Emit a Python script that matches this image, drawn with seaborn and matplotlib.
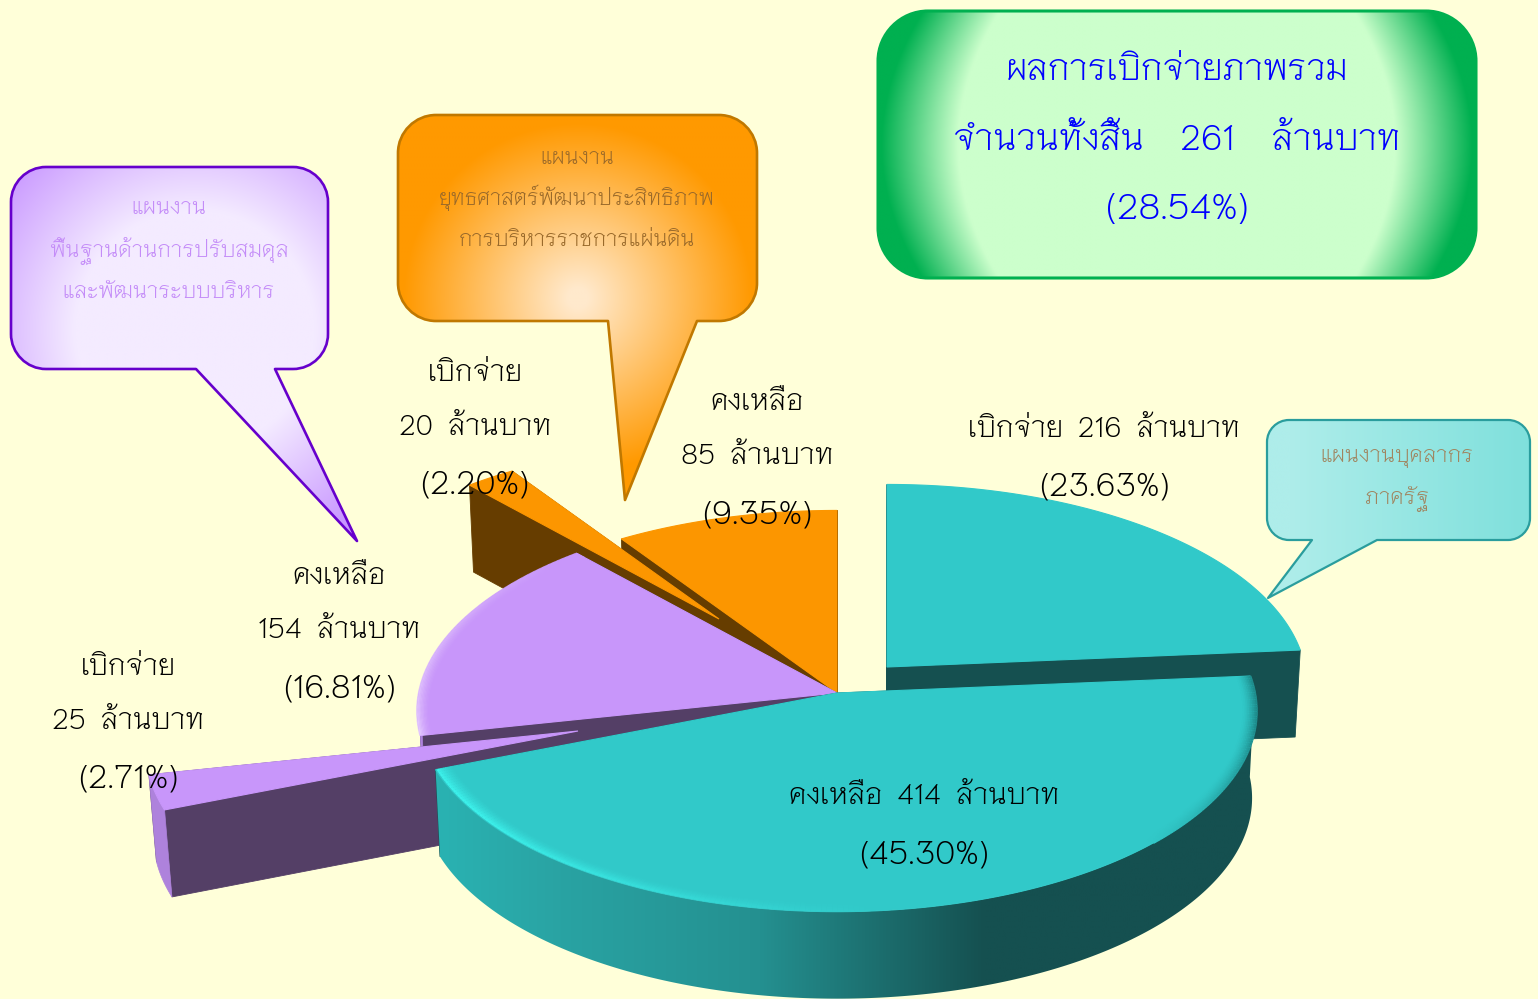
import numpy as np
import matplotlib
matplotlib.use("Agg")
import matplotlib.pyplot as plt
import seaborn as sns
from matplotlib.path import Path
from matplotlib.patches import PathPatch, Polygon
from matplotlib.collections import LineCollection
from matplotlib.colors import to_rgb

# ---------- data ----------
slice_names = ["เบิกจ่าย", "คงเหลือ", "เบิกจ่าย", "คงเหลือ", "เบิกจ่าย", "คงเหลือ"]
amounts = [216, 414, 25, 154, 20, 85]
percents = [23.63, 45.30, 2.71, 16.81, 2.20, 9.35]
total_amount = 261
total_percent = 28.54
plan_staff = ["แผนงานบุคลากร", "ภาครัฐ"]
plan_strategy = ["แผนงาน", "ยุทธศาสตร์พัฒนาประสิทธิภาพ", "การบริหารราชการแผ่นดิน"]
plan_basic = ["แผนงาน", "พื้นฐานด้านการปรับสมดุล", "และพัฒนาระบบบริหาร"]
title_lines = ["ผลการเบิกจ่ายภาพรวม", f"จำนวนทั้งสิ้น    {total_amount}    ล้านบาท", f"({total_percent:.2f}%)"]

# ---------- style ----------
FONT = ["Niramit", "DejaVu Sans"]
BG = "#FFFFD9"
sns.set_theme(style="white")
plt.rcParams["font.family"] = FONT
plt.rcParams["font.weight"] = "light"

TOP = ["#31C9C9", "#31C9C9", "#C896FA", "#C896FA", "#FC9600", "#FC9600"]
FACE = ["#155050", "#155050", "#543F66", "#543F66", "#663D00", "#663D00"]
OFFSET = [(50, -26), (0, 0), (-259, 38), (0, 0), (-118, -74), (0, 0)]
SCALE = [1, 1, 1.03, 1, 0.96, 1]
CX, CY, R, K, P, DEPTH, SHRINK = 837, 693, 418, 199, 0.09, 87, 0.011

fig = plt.figure(figsize=(15.38, 9.99), dpi=100, facecolor=BG)
ax = fig.add_axes([0, 0, 1, 1])
ax.set_facecolor(BG)
ax.axis("off")


def set_limits():
    ax.set_xlim(0, 1538)
    ax.set_ylim(999, 0)


set_limits()


def project(theta, off, scale=1.0):
    a = np.radians(theta)
    u, v = np.cos(a), np.sin(a)
    s = scale / (1 + P * v)
    return np.c_[CX + off[0] + R * u * s, CY + off[1] - K * v * s]


def extrude(pts):
    pts = np.asarray(pts, float)
    return np.c_[pts[:, 0] - (pts[:, 0] - CX) * SHRINK, pts[:, 1] + DEPTH]


def gradient_clip(patch, rgb, extent):
    ax.add_patch(patch)
    im = ax.imshow(rgb, extent=extent, aspect="auto", origin="upper",
                   interpolation="bilinear", zorder=patch.get_zorder())
    im.set_clip_path(patch)
    set_limits()


def rim_colors(xs):
    pal = np.array([to_rgb(c) for c in ["#2AB2B2", "#29A3A3", "#249090", "#155050", "#155050"]])
    stops = [440, 560, 760, 985, 1300]
    return np.stack([np.interp(xs, stops, pal[:, i]) for i in range(3)], -1)


def bevel_band(theta, strength, color, base, off, z, depth=0.04, peak=0.995):
    """Soft shaded band along an arc: strongest near the edge, fading inward and along the arc."""
    c1, c0 = np.array(to_rgb(color)), np.array(to_rgb(base))
    for f in np.linspace(peak - depth, peak, 10):
        w = ((f - (peak - depth)) / depth) ** 1.6
        pts = project(theta, off, f)
        segs = np.stack([pts[:-1], pts[1:]], 1)
        t = (strength[:-1] * w)[:, None]
        ax.add_collection(LineCollection(segs, colors=c0 + (c1 - c0) * t, linewidths=1.6,
                                         capstyle="butt", zorder=z))
        z += 0.01


edges = 90 - np.cumsum([0] + percents) * 3.6
for z, i in enumerate([5, 4, 3, 2, 0, 1]):
    th = np.linspace(edges[i], edges[i + 1], 240)
    off = OFFSET[i]
    arc = project(th, off, SCALE[i])
    apex = np.array([[CX + off[0], CY + off[1]]])
    base_z = 2 + z * 3
    # cut faces
    for end in (arc[-1:], arc[:1]):
        quad = np.vstack([apex, end, extrude(end), extrude(apex)])
        ax.add_patch(Polygon(quad, closed=True, fc=FACE[i], ec=FACE[i], lw=0.6, zorder=base_z))
    # outer rim, only where it faces the viewer
    front = np.sin(np.radians(th)) < 0.02
    if front.sum() > 1:
        a = arc[front]
        rim = np.vstack([a, extrude(a)[::-1]])
        if i == 1:
            patch = Polygon(rim, closed=True, fc="none", ec="none", zorder=base_z + 1)
            xs = np.linspace(430, 1270, 400)
            gradient_clip(patch, rim_colors(xs)[None, :, :], (430, 1270, 1000, 660))
        else:
            ax.add_patch(Polygon(rim, closed=True, fc="#AE82DC", ec="#AE82DC", lw=0.5, zorder=base_z + 1))
    # top
    ax.add_patch(Polygon(np.vstack([apex, arc]), closed=True, fc=TOP[i], ec=TOP[i], lw=0.8, zorder=base_z + 2))
    # soft bevels on the rounded edges
    if i == 1:
        left = th < -85
        bevel_band(th[left], np.clip((-85 - th[left]) / 60, 0, 1), "#3CF0EA", TOP[i], off, base_z + 2.5)
        right = th > -45
        bevel_band(th[right], np.clip((th[right] + 45) / 35, 0, 1), "#1E8C8C", TOP[i], off,
                   base_z + 2.7, depth=0.035, peak=1.0)
    if i == 3:
        bevel_band(th, np.clip((225 + th) / 57, 0, 1), "#E6CCFF", TOP[i], off, base_z + 2.5, depth=0.03, peak=1.0)


# ---------- call-outs ----------
def callout_path(x0, y0, x1, y1, r, tail=None):
    c = 0.45
    v = [(x0 + r, y0), (x1 - r, y0), (x1 - r * c, y0), (x1, y0 + r * c), (x1, y0 + r),
         (x1, y1 - r), (x1, y1 - r * c), (x1 - r * c, y1), (x1 - r, y1)]
    k = [Path.MOVETO, Path.LINETO, Path.CURVE4, Path.CURVE4, Path.CURVE4,
         Path.LINETO, Path.CURVE4, Path.CURVE4, Path.CURVE4]
    if tail:
        a, b, tip = tail
        v += [(b, y1), tip, (a, y1)]
        k += [Path.LINETO] * 3
    v += [(x0 + r, y1), (x0 + r * c, y1), (x0, y1 - r * c), (x0, y1 - r),
          (x0, y0 + r), (x0, y0 + r * c), (x0 + r * c, y0), (x0 + r, y0), (x0 + r, y0)]
    k += [Path.LINETO, Path.CURVE4, Path.CURVE4, Path.CURVE4,
          Path.LINETO, Path.CURVE4, Path.CURVE4, Path.CURVE4, Path.CLOSEPOLY]
    return Path(v, k)


def blend(t, c0, c1):
    c0, c1 = np.array(to_rgb(c0)), np.array(to_rgb(c1))
    return c0 + (c1 - c0) * np.clip(t, 0, 1)[..., None]


def callout(path, edge, lw, field, extent, c0, c1, z=40):
    x = np.linspace(extent[0], extent[1], 500)
    y = np.linspace(extent[3], extent[2], 500)
    X, Y = np.meshgrid(x, y)
    fill = PathPatch(path, fc="none", ec="none", zorder=z)
    gradient_clip(fill, blend(field(X, Y), c0, c1), extent)
    ax.add_patch(PathPatch(path, fc="none", ec=edge, lw=lw, zorder=z + 1, joinstyle="round"))


# green title box
callout(callout_path(878, 11, 1476, 278, 50), "#00B050", 2.2,
        lambda X, Y: (np.abs(X - 1177) / 296 + 0.14 * ((Y - 145) / 134) ** 2 - 0.74) / 0.26,
        (870, 1484, 285, 5), "#CCFFCC", "#00B050")
# orange
callout(callout_path(398, 115, 757, 321, 38, (608, 697, (625, 500))), "#C07800", 1.9,
        lambda X, Y: (np.hypot(X - 578, Y - 298) - 10) / 165,
        (390, 765, 510, 108), "#FFE9CC", "#FF9900")
# purple
callout(callout_path(11, 167, 328, 369, 35, (196, 275, (357, 541))), "#6600CC", 1.9,
        lambda X, Y: (np.hypot((X - 195), (Y - 330)) - 120) / 125,
        (5, 365, 548, 160), "#F4EBFF", "#C896FF")
# teal
callout(callout_path(1267, 420, 1530, 540, 22, (1312, 1377, (1268, 598))), "#2A9D9D", 1.6,
        lambda X, Y: (X - 1290) / 240,
        (1260, 1535, 604, 415), "#AEEDEA", "#7FE0DC")


def T(x, y, s, size=20.5, color="black", z=60):
    ax.text(x, y, s, ha="center", va="center", fontsize=size, color=color, zorder=z,
            family=FONT, fontweight="light")


PCT = 23.8


def slice_label(i, x, ys, one_line=False):
    pct = f"({percents[i]:.2f}%)"
    if one_line:
        T(x, ys[0] + 3, f"{slice_names[i]}  {amounts[i]}  ล้านบาท")
        T(x, ys[1] + 2, pct, size=PCT)
    else:
        T(x, ys[0] + 3, slice_names[i])
        T(x, ys[1] + 3, f"{amounts[i]}  ล้านบาท")
        T(x, ys[2] + 2, pct, size=PCT)


slice_label(0, 1104, (427, 486), True)
slice_label(1, 924, (794, 853), True)
slice_label(2, 128, (665, 719, 778))
slice_label(3, 339, (574, 628, 687))
slice_label(4, 475, (371, 425, 484))
slice_label(5, 757, (400, 454, 513))

for y, s, sz in zip((71, 141, 210), title_lines, (25, 25.5, 26.5)):
    T(1177, y, s, size=sz, color="#0000FF")
for y, s in zip((158, 198, 240), plan_strategy):
    T(577, y, s, size=15.3, color="#99692A")
for y, s in zip((209, 251, 292), plan_basic):
    T(169, y, s, size=15.6, color="#C48CF8")
for y, s in zip((458, 499), plan_staff):
    T(1397, y, s, size=15.6, color="#A08560")

set_limits()
fig.savefig("out.png", dpi=100, facecolor=BG)
